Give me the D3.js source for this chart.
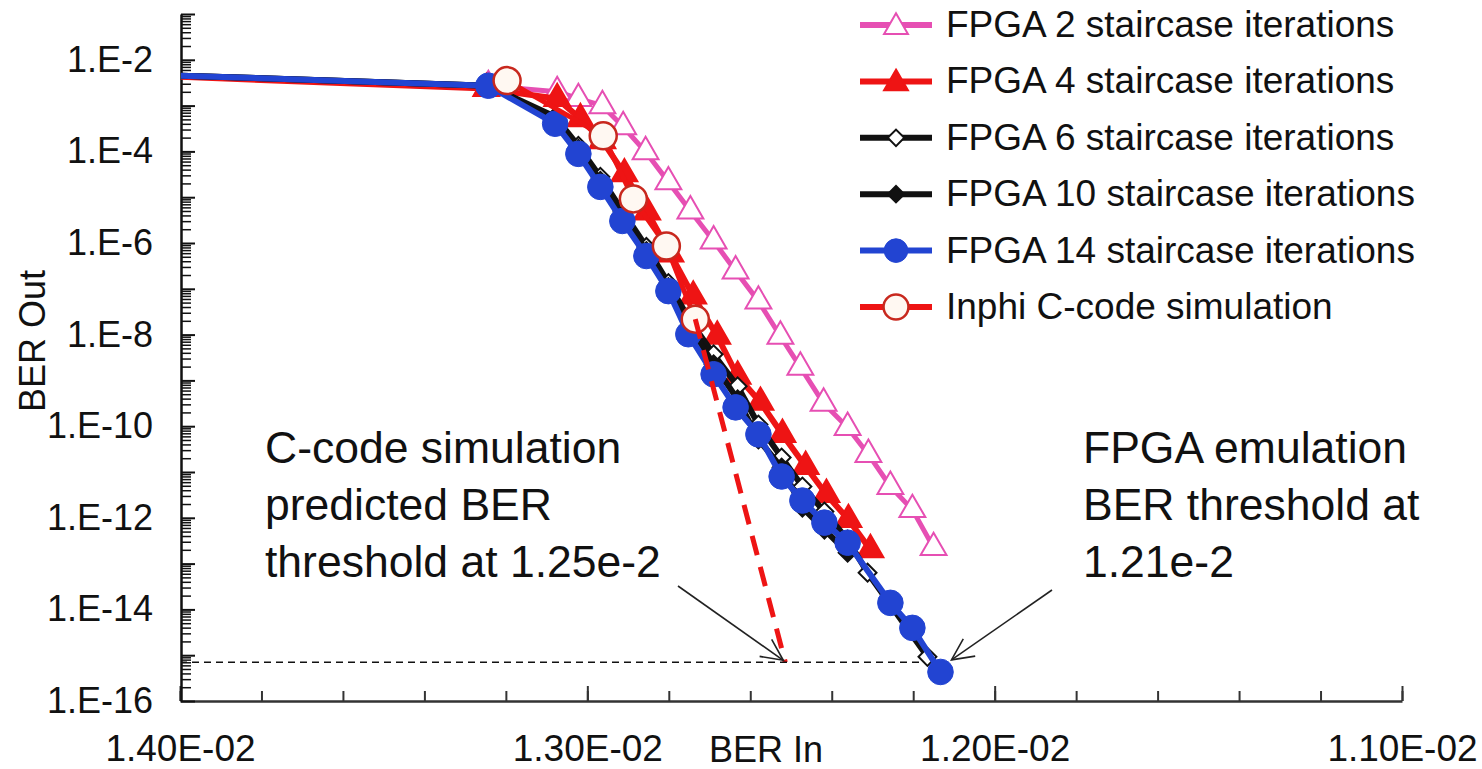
<!DOCTYPE html>
<html>
<head>
<meta charset="utf-8">
<script src="https://cdn.jsdelivr.net/npm/d3@7"></script>
<style>
  body { margin: 0; background: #fff; }
  text { font-family: "Liberation Sans", Arial, sans-serif; fill: #111; }
</style>
</head>
<body>
<div id="chart"></div>
<script>
var svgWidth = 1482;
var svgHeight = 769;

// BER In / BER Out (first point sits left of the axis and gets clipped)
var fpga2In = [1.45e-2, 1.3243e-2, 1.3074e-2, 1.3022e-2, 1.2963e-2, 1.2912e-2, 1.2857e-2, 1.2801e-2, 1.2747e-2, 1.2690e-2,
  1.2636e-2, 1.2580e-2, 1.2526e-2, 1.2477e-2, 1.2420e-2, 1.2361e-2, 1.2310e-2, 1.2256e-2, 1.2202e-2, 1.2150e-2];
var fpga2Out = [6.3e-3, 2.72e-3, 2.01e-3, 1.42e-3, 9.96e-4, 3.45e-4, 9.8e-5, 2.16e-5, 5.0e-6, 1.11e-6,
  2.44e-7, 5.38e-8, 9.2e-9, 1.94e-9, 3.16e-10, 9.4e-11, 2.42e-11, 4.82e-12, 1.51e-12, 2.23e-13];

var fpga4In = [1.45e-2, 1.3248e-2, 1.3074e-2, 1.3017e-2, 1.2963e-2, 1.2909e-2, 1.2853e-2, 1.2796e-2, 1.2740e-2, 1.2681e-2,
  1.2631e-2, 1.2575e-2, 1.2521e-2, 1.2464e-2, 1.2413e-2, 1.2359e-2, 1.2305e-2];
var fpga4Out = [6.3e-3, 2.35e-3, 1.42e-3, 5.16e-4, 1.71e-4, 3.24e-5, 4.76e-6, 5.74e-7, 6.92e-8, 9.2e-9,
  1.23e-9, 3.32e-10, 6.6e-11, 1.32e-11, 3.22e-12, 9.15e-13, 2.01e-13];

var fpga6In = [1.45e-2, 1.3243e-2, 1.3079e-2, 1.3022e-2, 1.2968e-2, 1.2914e-2, 1.2855e-2, 1.2801e-2, 1.2747e-2, 1.2690e-2,
  1.2631e-2, 1.2580e-2, 1.2523e-2, 1.2472e-2, 1.2418e-2, 1.2361e-2, 1.2312e-2, 1.2165e-2];
var fpga6Out = [6.3e-3, 2.72e-3, 5.71e-4, 1.32e-4, 2.78e-5, 5.0e-6, 8.2e-7, 1.33e-7, 1.96e-8, 3.72e-9,
  7.43e-10, 1.09e-10, 2.07e-11, 4.82e-12, 1.37e-12, 3.33e-13, 6.33e-14, 9.2e-16];

var fpga10In = [1.45e-2, 1.3243e-2, 1.3079e-2, 1.3022e-2, 1.2968e-2, 1.2914e-2, 1.2855e-2, 1.2801e-2, 1.2747e-2, 1.2690e-2,
  1.2631e-2, 1.2580e-2, 1.2523e-2, 1.2472e-2, 1.2418e-2, 1.2361e-2];
var fpga10Out = [6.3e-3, 2.72e-3, 5.16e-4, 1.14e-4, 2.28e-5, 4.10e-6, 6.69e-7, 1.09e-7, 1.45e-8, 2.25e-9,
  3.86e-10, 5.14e-11, 1.25e-11, 1.67e-12, 5.52e-13, 1.73e-13];

var fpga14In = [1.45e-2, 1.3243e-2, 1.3079e-2, 1.3022e-2, 1.2968e-2, 1.2914e-2, 1.2855e-2, 1.2801e-2, 1.2752e-2, 1.2690e-2,
  1.2636e-2, 1.2580e-2, 1.2523e-2, 1.2472e-2, 1.2418e-2, 1.2361e-2, 1.2256e-2, 1.2202e-2, 1.2133e-2];
var fpga14Out = [6.3e-3, 2.72e-3, 4.02e-4, 8.85e-5, 1.68e-5, 3.03e-6, 5.2e-7, 8.9e-8, 1.02e-8, 1.36e-9,
  2.58e-10, 6.63e-11, 7.98e-12, 2.38e-12, 7.85e-13, 2.86e-13, 1.39e-14, 3.95e-15, 4.31e-16];

var inphiIn = [1.3197e-2, 1.2961e-2, 1.2887e-2, 1.2806e-2, 1.2735e-2];
var inphiOut = [3.51e-3, 2.19e-4, 9.18e-6, 8.59e-7, 2.17e-8];

// extrapolation of the C-code curve and the threshold level
var extrapIn = [1.2735e-2, 1.2514e-2];
var extrapOut = [2.17e-8, 7.0e-16];
var thresholdIn = [1.40e-2, 1.218e-2];
var thresholdOut = [7.0e-16, 7.0e-16];
var fpgaThresholdIn = 1.2106e-2;
var fpgaThresholdOut = 7.9e-16;

var legendNames = ["FPGA 2 staircase iterations", "FPGA 4 staircase iterations", "FPGA 6 staircase iterations",
  "FPGA 10 staircase iterations", "FPGA 14 staircase iterations", "Inphi C-code simulation"];

var xTickVals = [1.4e-2, 1.3e-2, 1.2e-2, 1.1e-2];
var xTickLabels = ["1.40E-02", "1.30E-02", "1.20E-02", "1.10E-02"];
var yLabelExps = [-2, -4, -6, -8, -10, -12, -14, -16];

var leftNote = ["C-code simulation", "predicted BER", "threshold at 1.25e-2"];
var rightNote = ["FPGA emulation", "BER threshold at", "1.21e-2"];

var pink = "#e64fb3";
var red = "#ee1414";
var blue = "#2244d2";
var black = "#111";

var series = [
  {name: legendNames[0], xs: fpga2In, ys: fpga2Out, color: pink, width: 5, marker: "tri", fill: "#fff", stroke: pink},
  {name: legendNames[1], xs: fpga4In, ys: fpga4Out, color: red, width: 6, marker: "tri", fill: red, stroke: red},
  {name: legendNames[2], xs: fpga6In, ys: fpga6Out, color: black, width: 6, marker: "dia", fill: "#fff", stroke: black},
  {name: legendNames[3], xs: fpga10In, ys: fpga10Out, color: black, width: 6, marker: "dia", fill: black, stroke: black},
  {name: legendNames[4], xs: fpga14In, ys: fpga14Out, color: blue, width: 6, marker: "dot", fill: blue, stroke: blue},
  {name: legendNames[5], xs: inphiIn, ys: inphiOut, color: red, width: 5, marker: "ring", fill: "#fff8f2", stroke: "#c8281e"}
];

var svg = d3.select("#chart")
  .append("svg")
  .attr("width", svgWidth)
  .attr("height", svgHeight);

var xScale = d3.scaleLinear().domain([1.4e-2, 1.1e-2]).range([180, 1402]);
var yScale = d3.scaleLog().domain([1e-16, 1e-1]).range([701, 14]);

svg.append("clipPath").attr("id", "plotClip")
  .append("rect").attr("x", 181).attr("y", 0).attr("width", svgWidth - 181).attr("height", svgHeight);

// x axis: minor ticks every 0.02E-2, major every 0.1E-2, ticks point inward
var xMinor = d3.range(0, 16).map(i => 1.4e-2 - i * 0.0002);
svg.append("g")
  .attr("transform", "translate(0,701)")
  .call(d3.axisBottom(xScale).tickValues(xMinor).tickSize(-10).tickSizeOuter(0).tickFormat(""))
  .call(g => g.select(".domain").attr("stroke", "#333").attr("stroke-width", 2.5))
  .call(g => g.selectAll(".tick line").attr("stroke", "#333").attr("stroke-width", 2));

svg.append("g")
  .attr("transform", "translate(0,701)")
  .call(d3.axisBottom(xScale).tickValues(xTickVals).tickSize(-15).tickSizeOuter(0).tickPadding(34)
    .tickFormat((d, i) => xTickLabels[i]))
  .attr("font-family", null).attr("font-size", null)
  .call(g => g.select(".domain").remove())
  .call(g => g.selectAll(".tick line").attr("stroke", "#333").attr("stroke-width", 2))
  .call(g => g.selectAll("text").attr("font-size", 37).attr("fill", "#111"));

// y axis: log, major tick every decade, labels every second decade
var yMajor = d3.range(-16, 0).map(e => Math.pow(10, e));
var yMinor = [];
d3.range(-16, -1).forEach(function(e) {
  d3.range(2, 10).forEach(k => yMinor.push(k * Math.pow(10, e)));
});

svg.append("g")
  .attr("transform", "translate(181,0)")
  .call(d3.axisLeft(yScale).tickValues(yMinor).tickSize(-10).tickSizeOuter(0).tickFormat(""))
  .call(g => g.select(".domain").attr("stroke", "#111").attr("stroke-width", 2.5))
  .call(g => g.selectAll(".tick line").attr("stroke", "#111").attr("stroke-width", 1.5));

svg.append("g")
  .attr("transform", "translate(181,0)")
  .call(d3.axisLeft(yScale).tickValues(yMajor).tickSize(-14).tickSizeOuter(0).tickPadding(28)
    .tickFormat(function(d) {
      var e = Math.round(Math.log10(d));
      return yLabelExps.indexOf(e) >= 0 ? "1.E" + e : "";
    }))
  .attr("font-family", null).attr("font-size", null)
  .call(g => g.select(".domain").remove())
  .call(g => g.selectAll(".tick line").attr("stroke", "#111").attr("stroke-width", 2))
  .call(g => g.selectAll("text").attr("font-size", 36).attr("fill", "#111"));

// axis titles
svg.append("text")
  .attr("transform", "translate(45,341) rotate(-90)")
  .attr("text-anchor", "middle")
  .attr("font-size", 36)
  .text("BER Out");

svg.append("text")
  .attr("x", 766)
  .attr("y", 762)
  .attr("text-anchor", "middle")
  .attr("font-size", 36)
  .text("BER In");

// markers
function drawMarker(sel, type, cx, cy, fill, stroke, scale) {
  scale = scale || 1;
  if (type === "tri") {
    sel.append("path")
      .attr("d", d3.symbol().type(d3.symbolTriangle).size(290 * scale)())
      .attr("transform", `translate(${cx},${cy})`)
      .attr("fill", fill).attr("stroke", stroke).attr("stroke-width", 2);
  } else if (type === "dia") {
    sel.append("path")
      .attr("d", d3.symbol().type(d3.symbolSquare).size(160 * scale)())
      .attr("transform", `translate(${cx},${cy}) rotate(45)`)
      .attr("fill", fill).attr("stroke", stroke).attr("stroke-width", 2);
  } else if (type === "dot") {
    sel.append("circle").attr("cx", cx).attr("cy", cy).attr("r", 12.8 * Math.sqrt(scale))
      .attr("fill", fill).attr("stroke", stroke).attr("stroke-width", 1);
  } else {
    sel.append("circle").attr("cx", cx).attr("cy", cy).attr("r", 13.5 * Math.sqrt(scale))
      .attr("fill", fill).attr("stroke", stroke).attr("stroke-width", 2.5);
  }
}

var plot = svg.append("g").attr("clip-path", "url(#plotClip)");

var line = d3.line()
  .x(d => xScale(d[0]))
  .y(d => yScale(d[1]));

series.forEach(function(s) {
  var pts = s.xs.map((x, i) => [x, s.ys[i]]);
  var g = plot.append("g");
  g.append("path")
    .attr("d", line(pts))
    .attr("fill", "none")
    .attr("stroke", s.color)
    .attr("stroke-width", s.width)
    .attr("stroke-linejoin", "round");
  pts.forEach(p => drawMarker(g, s.marker, xScale(p[0]), yScale(p[1]), s.fill, s.stroke));
});

// C-code extrapolation and threshold level
plot.append("path")
  .attr("d", line(extrapIn.map((x, i) => [x, extrapOut[i]])))
  .attr("fill", "none").attr("stroke", red).attr("stroke-width", 5)
  .attr("stroke-dasharray", "20,12");

plot.append("path")
  .attr("d", line(thresholdIn.map((x, i) => [x, thresholdOut[i]])))
  .attr("fill", "none").attr("stroke", "#111").attr("stroke-width", 1.5)
  .attr("stroke-dasharray", "7,5");

// annotations
function note(lines, x) {
  svg.append("g").selectAll("text")
    .data(lines)
    .enter()
    .append("text")
    .attr("x", x)
    .attr("y", (d, i) => 463 + i * 57)
    .attr("font-size", 44.5)
    .text(d => d);
}
note(leftNote, 265);
note(rightNote, 1083);

function arrow(x1, y1, x2, y2) {
  var a = Math.atan2(y2 - y1, x2 - x1);
  var len = 24, spread = 0.45;
  var g = svg.append("g").attr("stroke", "#222").attr("stroke-width", 1.6).attr("fill", "none");
  g.append("line").attr("x1", x1).attr("y1", y1).attr("x2", x2).attr("y2", y2);
  g.append("polyline").attr("points", [
    [x2 - len * Math.cos(a - spread), y2 - len * Math.sin(a - spread)],
    [x2, y2],
    [x2 - len * Math.cos(a + spread), y2 - len * Math.sin(a + spread)]
  ].map(p => p.join(",")).join(" "));
}
arrow(678, 586, xScale(extrapIn[1]) - 2, yScale(extrapOut[1]) - 2);
arrow(1052, 590, xScale(fpgaThresholdIn), yScale(fpgaThresholdOut));

// legend
var legend = svg.append("g");
series.forEach(function(s, i) {
  var cy = 25 + i * 56.4;
  legend.append("line")
    .attr("x1", 860).attr("x2", 932).attr("y1", cy).attr("y2", cy)
    .attr("stroke", s.color).attr("stroke-width", 6);
  drawMarker(legend, s.marker, 896, cy + (s.marker === "tri" ? 2 : 0), s.fill, s.stroke, 0.85);
  legend.append("text")
    .attr("x", 946)
    .attr("y", cy + 12)
    .attr("font-size", 37)
    .text(s.name);
});
</script>
</body>
</html>
